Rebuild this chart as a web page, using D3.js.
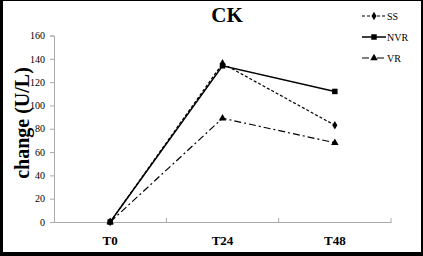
<!DOCTYPE html>
<html>
<head>
<meta charset="utf-8">
<script src="https://cdn.jsdelivr.net/npm/d3@7"></script>
<style>
  body { margin: 0; background: #fff; }
  svg { display: block; }
  svg text { font-family: "Times New Roman", "Liberation Serif", "DejaVu Serif", serif !important; }
</style>
</head>
<body>
<div id="viz"></div>
<script>
var categories = ["T0", "T24", "T48"];
var ssValues = [0, 136, 83];
var nvrValues = [0, 134, 112];
var vrValues = [0, 89, 68];
var yTicks = [0, 20, 40, 60, 80, 100, 120, 140, 160];

var series = [
  {name: "SS", values: ssValues, dash: "3,2", symbol: d3.symbolDiamond, size: 22},
  {name: "NVR", values: nvrValues, dash: null, symbol: d3.symbolSquare, size: 30},
  {name: "VR", values: vrValues, dash: "7,3,2,3", symbol: d3.symbolTriangle, size: 24}
];

var W = 423, H = 256;
var margin = {top: 35.5, right: 32, bottom: 34, left: 54};
var width = W - margin.left - margin.right,
    height = H - margin.top - margin.bottom;

var root = d3.select("#viz").append("svg")
  .attr("width", W).attr("height", H);

// outer frame
root.append("rect").attr("x", 0).attr("y", 0).attr("width", W).attr("height", H).attr("fill", "#000");
root.append("rect").attr("x", 3).attr("y", 1).attr("width", 418).attr("height", 251).attr("fill", "#fff");

var svg = root.append("g")
  .attr("transform", "translate(" + margin.left + "," + margin.top + ")");

var x = d3.scaleBand().domain(categories).range([0, width]);
var y = d3.scaleLinear().domain([0, 160]).range([height, 0]);

// Y axis
var yAxis = svg.append("g")
  .call(d3.axisLeft(y).tickValues(yTicks).tickSize(4).tickPadding(5));
yAxis.select(".domain").attr("stroke", "#aaa");
yAxis.selectAll(".tick line").attr("stroke", "#aaa");
yAxis.selectAll("text")
  .style("font-size", "10px").attr("fill", "#000");

// X axis
var xAxis = svg.append("g")
  .attr("transform", "translate(0," + height + ")")
  .call(d3.axisBottom(x).tickSize(0).tickPadding(14));
xAxis.select(".domain").attr("stroke", "#aaa");
xAxis.selectAll("text")
  .style("font-size", "13px").style("font-weight", "bold").attr("fill", "#000");
// category boundary ticks
svg.append("g").selectAll("line")
  .data(categories.slice(1).concat(["end"]))
  .join("line")
  .attr("x1", function(d, i) { return x.step() * (i + 1); })
  .attr("x2", function(d, i) { return x.step() * (i + 1); })
  .attr("y1", height).attr("y2", height - 4)
  .attr("stroke", "#aaa");

// lines
var line = d3.line()
  .x(function(d, i) { return x(categories[i]) + x.bandwidth() / 2; })
  .y(function(d) { return y(d); });

series.forEach(function(s) {
  svg.append("path").datum(s.values)
    .attr("fill", "none")
    .attr("stroke", "#000")
    .attr("stroke-width", s.dash ? 1.2 : 1.5)
    .attr("stroke-dasharray", s.dash)
    .attr("d", line);
  svg.selectAll(null).data(s.values).join("path")
    .attr("transform", function(d, i) {
      return "translate(" + (x(categories[i]) + x.bandwidth() / 2) + "," + y(d) + ")";
    })
    .attr("d", d3.symbol().type(s.symbol).size(s.size))
    .attr("fill", "#000");
});

// title
root.append("text")
  .attr("x", 227).attr("y", 22)
  .attr("text-anchor", "middle")
  .style("font-size", "21px").style("font-weight", "bold")
  .text("CK");

// y title
root.append("text")
  .attr("transform", "translate(29,123) rotate(-90)")
  .attr("text-anchor", "middle")
  .style("font-size", "20px").style("font-weight", "bold")
  .text("change (U/L)");

// legend
var legend = root.append("g").attr("transform", "translate(362,16)");
series.forEach(function(s, i) {
  var g = legend.append("g").attr("transform", "translate(0," + (i * 21) + ")");
  g.append("line").attr("x1", 0).attr("x2", 24).attr("y1", 0).attr("y2", 0)
    .attr("stroke", "#000").attr("stroke-width", s.dash ? 1.2 : 1.5)
    .attr("stroke-dasharray", s.dash);
  g.append("path").attr("transform", "translate(12,0)")
    .attr("d", d3.symbol().type(s.symbol).size(s.size)).attr("fill", "#000");
  g.append("text").attr("x", 25).attr("y", 3.5)
    .style("font-size", "10px")
    .text(s.name);
});
</script>
</body>
</html>
